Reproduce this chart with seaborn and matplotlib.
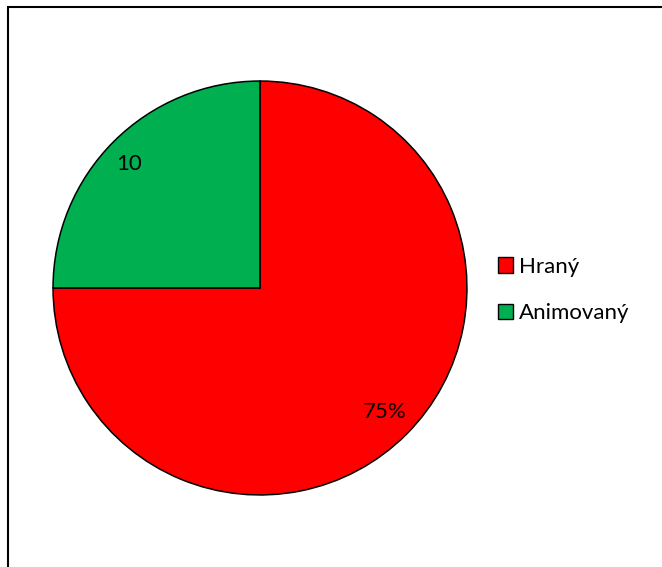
import matplotlib
matplotlib.use("Agg")
import matplotlib.pyplot as plt
import seaborn as sns
from matplotlib.patches import Rectangle, Patch

sns.set_theme(style="white")
plt.rcParams['font.family'] = ['Lato', 'DejaVu Sans']
plt.rcParams['text.color'] = 'black'

categories = ["Hraný", "Animovaný"]
values = [30, 10]
colors = ["#FF0000", "#00B050"]

W, H = 662, 567
fig = plt.figure(figsize=(W / 100, H / 100), dpi=100)

# outer frame (cut at right and bottom)
fig.patches.append(Rectangle((8 / W, -0.1), 1.2, 1 - 7 / H + 0.1, transform=fig.transFigure,
                             fill=False, edgecolor="black", linewidth=1.5))

cx, cy, r = 260, 288, 208
ax = fig.add_axes([(cx - r) / W, (H - cy - r) / H, 2 * r / W, 2 * r / H])
total = sum(values)

def fmt(p):
    v = round(p * total / 100)
    return "75%" if v == 30 else f"{v}"

wedges, texts, autotexts = ax.pie(values, colors=colors, startangle=90, counterclock=False,
                                  autopct=fmt, pctdistance=0.85,
                                  wedgeprops=dict(edgecolor="black", linewidth=1.1),
                                  textprops=dict(fontsize=16, color="black"))
autotexts[1].set_x(autotexts[1].get_position()[0] - 0.03)
ax.set_xlim(-1.005, 1.005)
ax.set_ylim(-1.005, 1.005)
ax.set_aspect("equal")
ax.axis("off")

handles = [Patch(facecolor=c, edgecolor="black", linewidth=1.0, label=l) for c, l in zip(colors, categories)]
leg = fig.legend(handles=handles, loc="center left", bbox_to_anchor=(489 / W, 1 - 290 / H),
                 frameon=False, fontsize=16, handlelength=0.7, handleheight=0.7,
                 handletextpad=0.25, labelspacing=1.2, borderaxespad=0)
for t in leg.get_texts():
    t.set_color("black")

fig.savefig("out.png", dpi=100)
